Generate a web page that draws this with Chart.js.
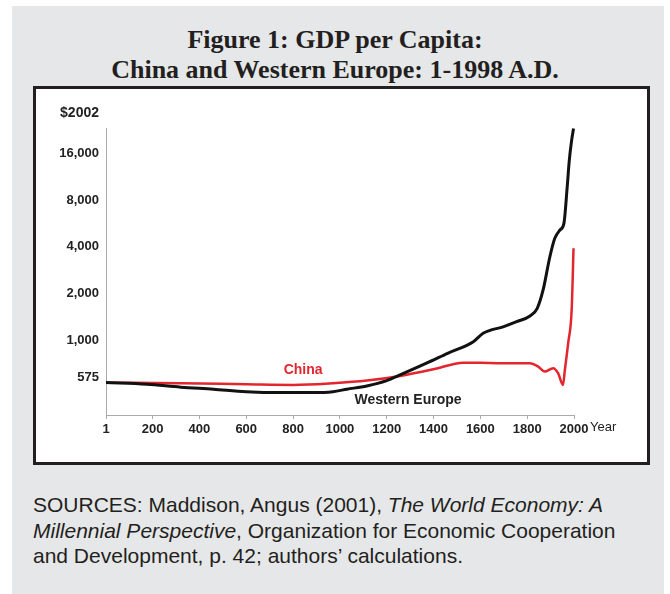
<!DOCTYPE html>
<html>
<head>
<meta charset="utf-8">
<script src="https://cdn.jsdelivr.net/npm/chart.js@4.4.1/dist/chart.umd.min.js"></script>
<style>
  body { margin: 0; width: 670px; height: 594px; background: #fff; position: relative; overflow: hidden; }
  #panel { position: absolute; left: 12px; top: 6px; width: 652px; height: 588px; background: #e6e7e8; }
  #title { position: absolute; left: 0; top: 25px; width: 670px; text-align: center;
           font: bold 26px/30px "Liberation Serif", "Times New Roman", serif; color: #231f20; }
  #box { position: absolute; left: 33px; top: 86px; width: 611px; height: 373px;
         border: 3px solid #231f20; background: #fff; }
  #chart { position: absolute; left: 0; top: 0; }
  #sources { position: absolute; left: 33px; top: 492px; white-space: nowrap;
             font: 21px/25.5px "Liberation Sans", Arial, sans-serif; color: #231f20; }
</style>
</head>
<body>
<div id="panel"></div>
<div id="title">Figure 1: GDP per Capita:<br>China and Western Europe: 1-1998 A.D.</div>
<div id="box"><canvas id="chart" width="611" height="373"></canvas></div>
<div id="sources">SOURCES: Maddison, Angus (2001), <i>The World Economy: A</i><br><i>Millennial Perspective</i>, Organization for Economic Cooperation<br>and Development, p. 42; authors’ calculations.</div>

<script>
// values ($2002, log scale)
const weYears  = [1, 175, 320, 460, 600, 745, 885, 970, 1030, 1115, 1200, 1257, 1370, 1460, 1570, 1612, 1700, 1755, 1812, 1843, 1868, 1897, 1918, 1940, 1957, 1971, 1980, 1990, 1998];
const weValues = [531, 518, 496, 481, 464, 458, 458, 464, 481, 505, 547, 595, 708, 820, 975, 1104, 1220, 1312, 1428, 1601, 2101, 3443, 4524, 5117, 5653, 9735, 14460, 19470, 23150];

const cnYears  = [1, 320, 600, 800, 970, 1115, 1257, 1400, 1527, 1600, 1700, 1812, 1847, 1875, 1911, 1932, 1953, 1961, 1975, 1990, 1998];
const cnValues = [530, 526, 518, 513, 526, 547, 586, 647, 714, 712, 708, 708, 673, 625, 657, 610, 513, 641, 952, 1561, 3900];

const xTicks = [1, 200, 400, 600, 800, 1000, 1200, 1400, 1600, 1800, 2000];
const yTicks = [575, 1000, 2000, 4000, 8000, 16000];

const toPoints = (xs, ys) => xs.map((x, i) => ({ x: x, y: ys[i] }));

const extraText = {
  id: 'extraText',
  afterDraw(chart) {
    const { ctx, scales: { x, y } } = chart;
    ctx.save();
    ctx.fillStyle = '#222';
    ctx.font = 'bold 14px "Liberation Sans", Arial, sans-serif';
    ctx.textAlign = 'right';
    ctx.textBaseline = 'middle';
    ctx.fillText('$2002', x.left - 7, y.top - 15);

    ctx.font = '13px "Liberation Sans", Arial, sans-serif';
    ctx.textAlign = 'left';
    ctx.fillText('Year', x.right + 16, y.bottom + 12);

    ctx.textAlign = 'center';
    ctx.font = 'bold 14px "Liberation Sans", Arial, sans-serif';
    ctx.fillText('Western Europe', x.getPixelForValue(1291), y.getPixelForValue(410));
    ctx.fillStyle = '#e3262e';
    ctx.fillText('China', x.getPixelForValue(843), y.getPixelForValue(634));
    ctx.restore();
  }
};

new Chart(document.getElementById('chart'), {
  type: 'line',
  data: {
    datasets: [{
      label: 'Western Europe',
      data: toPoints(weYears, weValues),
      borderColor: '#111',
      borderWidth: 3,
      pointRadius: 0,
      cubicInterpolationMode: 'monotone',
      clip: false
    }, {
      label: 'China',
      data: toPoints(cnYears, cnValues),
      borderColor: '#e3262e',
      borderWidth: 2.5,
      pointRadius: 0,
      cubicInterpolationMode: 'monotone',
      clip: false
    }]
  },
  options: {
    responsive: false,
    animation: false,
    devicePixelRatio: 1,
    layout: { padding: { top: 39, right: 73, left: 0, bottom: 0 } },
    plugins: { legend: { display: false }, tooltip: { enabled: false } },
    scales: {
      x: {
        type: 'linear',
        min: 1,
        max: 2000,
        afterBuildTicks: s => { s.ticks = xTicks.map(v => ({ value: v })); },
        afterFit: s => { s.height = 47; },
        border: { color: '#aaa', width: 1 },
        grid: { drawOnChartArea: false, tickLength: 4, color: '#aaa' },
        ticks: {
          padding: 3,
          color: '#222',
          maxRotation: 0,
          autoSkip: false,
          font: { family: '"Liberation Sans", Arial, sans-serif', size: 13, weight: 'bold' },
          callback: v => String(v)
        }
      },
      y: {
        type: 'logarithmic',
        min: 328,
        max: 23300,
        afterBuildTicks: s => { s.ticks = yTicks.map(v => ({ value: v })); },
        afterFit: s => { s.width = 70; },
        border: { color: '#aaa', width: 1 },
        grid: { display: true, drawOnChartArea: false, drawTicks: false },
        ticks: {
          padding: 7,
          color: '#222',
          font: { family: '"Liberation Sans", Arial, sans-serif', size: 13, weight: 'bold' },
          callback: v => Number(v).toLocaleString('en-US')
        }
      }
    }
  },
  plugins: [extraText]
});
</script>
</body>
</html>
